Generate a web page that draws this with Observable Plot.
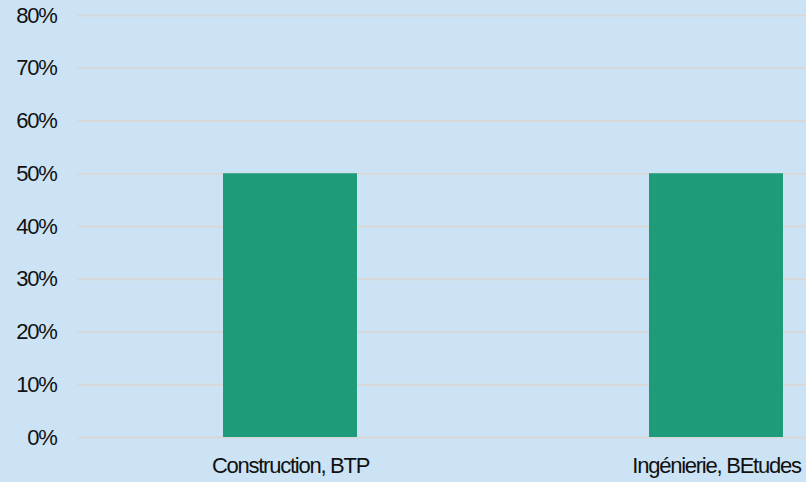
<!DOCTYPE html>
<html>
<head>
<meta charset="utf-8">
<script src="https://cdn.jsdelivr.net/npm/d3@7"></script>
<script src="https://cdn.jsdelivr.net/npm/@observablehq/plot@0.6"></script>
<style>
  html, body { margin: 0; padding: 0; background: #cce3f5; }
  #chart { width: 806px; height: 482px; }
  #chart svg text { letter-spacing: -1.25px; }
</style>
</head>
<body>
<div id="chart"></div>
<script>
const categories = ["Construction, BTP", "Ingénierie, BEtudes"];
const values = [0.50, 0.50];
const yTicks = [0, 0.1, 0.2, 0.3, 0.4, 0.5, 0.6, 0.7, 0.8];

const data = categories.map((c, i) => ({ category: c, value: values[i] }));

const chart = Plot.plot({
  width: 806,
  height: 482,
  marginTop: 15,
  marginBottom: 45,
  marginLeft: 77,
  marginRight: 0,
  style: {
    background: "#cce3f5",
    fontFamily: "'Liberation Sans', Arial, sans-serif",
    fontSize: "22px",
    color: "#111111"
  },
  x: {
    domain: categories,
    range: [77, 929],
    paddingInner: 0.6854,
    paddingOuter: 0.3427,
    label: null
  },
  y: {
    domain: [0, 0.8],
    label: null
  },
  marks: [
    Plot.gridY(yTicks, { stroke: "#d8d8d8", strokeOpacity: 1, strokeWidth: 2 }),
    Plot.barY(data, { x: "category", y: "value", fill: "#1e9b79" }),
    Plot.axisY(yTicks, {
      tickSize: 0,
      tickPadding: 21,
      tickFormat: d => Math.round(d * 100) + "%",
      fontSize: 22
    }),
    Plot.axisX({
      tickSize: 0,
      tickPadding: 20,
      fontSize: 22
    })
  ]
});
document.getElementById("chart").appendChild(chart);
</script>
</body>
</html>
